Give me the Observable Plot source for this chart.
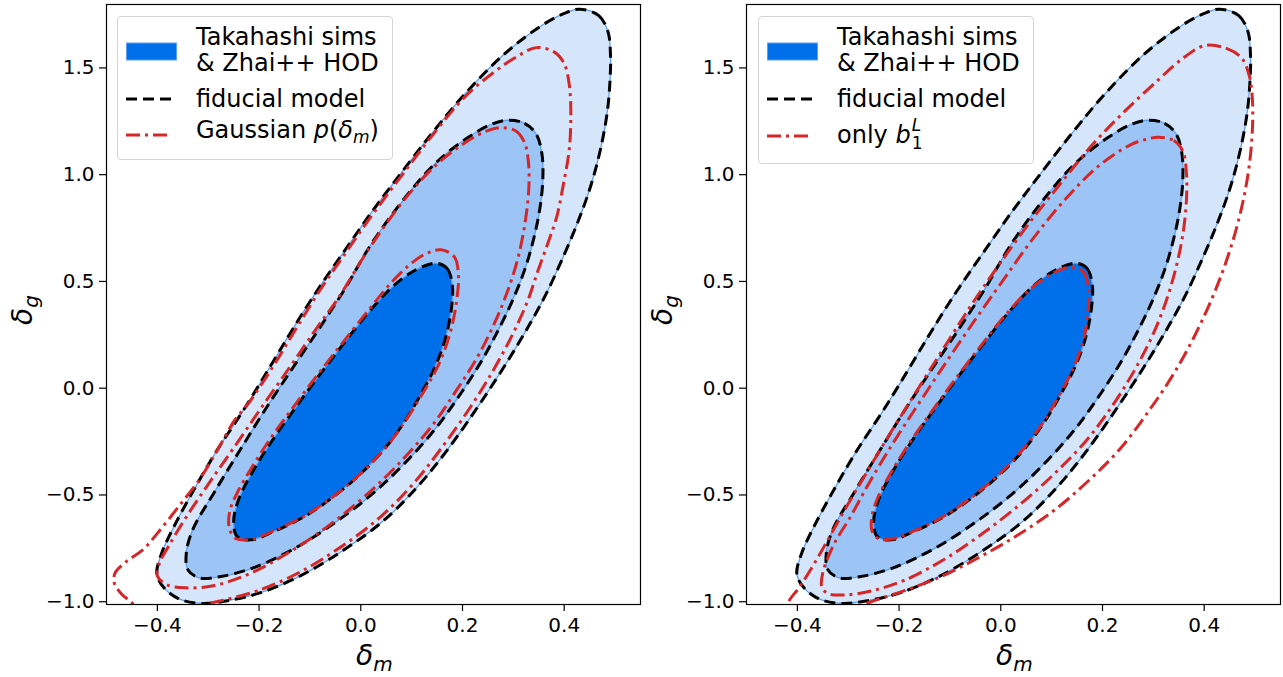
<!DOCTYPE html>
<html><head><meta charset="utf-8">
<script src="https://cdn.jsdelivr.net/npm/d3@7"></script>
<script src="https://cdn.jsdelivr.net/npm/@observablehq/plot@0.6"></script>
<style>
body{margin:0;background:#fff;}
#fig{position:relative;width:1283px;height:677px;font-family:"DejaVu Sans",sans-serif;overflow:hidden;background:#fff}
.panel{position:absolute;top:0}
.legend{position:absolute;border:1px solid #d4d4d4;border-radius:4px;background:rgba(255,255,255,0.85);box-sizing:border-box}
.lt{position:absolute;font-size:24px;line-height:28px;white-space:nowrap;color:#000}
.ax{position:absolute;font-size:28px;white-space:nowrap;color:#000;line-height:32px}
.sw{position:absolute;overflow:visible}
</style></head><body><div id="fig"></div>
<script>
// ---------------- data ----------------
const xTicks = [-0.4, -0.2, 0.0, 0.2, 0.4];
const yTicks = [-1.0, -0.5, 0.0, 0.5, 1.0, 1.5];
const xDomain = [-0.5, 0.55];
const yDomain = [-1.013, 1.797];

// Takahashi sims & Zhai++ HOD: filled contour boundaries [δm, δg]
const simsOuter = [
  [0.430,1.775],[0.468,1.745],[0.486,1.670],[0.491,1.560],[0.490,1.440],[0.485,1.300],[0.472,1.126],
  [0.453,0.954],[0.430,0.798],[0.400,0.626],[0.362,0.430],[0.320,0.250],[0.275,0.075],[0.225,-0.105],
  [0.170,-0.290],[0.112,-0.460],[0.045,-0.620],[-0.035,-0.760],[-0.120,-0.880],[-0.200,-0.960],
  [-0.262,-0.995],[-0.312,-1.008],[-0.356,-0.988],[-0.387,-0.935],[-0.401,-0.870],[-0.392,-0.776],
  [-0.368,-0.651],[-0.329,-0.479],[-0.283,-0.292],[-0.231,-0.104],[-0.179,0.098],[-0.133,0.280],
  [-0.085,0.460],[-0.033,0.640],[0.020,0.820],[0.072,0.985],[0.138,1.188],[0.204,1.376],[0.280,1.560],
  [0.352,1.693],[0.400,1.755]
];
const simsMiddle = [
  [0.290,1.255],[0.322,1.240],[0.345,1.190],[0.356,1.100],[0.358,0.980],[0.352,0.840],[0.340,0.700],
  [0.323,0.560],[0.300,0.420],[0.272,0.280],[0.238,0.130],[0.198,-0.020],[0.150,-0.180],[0.095,-0.330],
  [0.030,-0.480],[-0.045,-0.620],[-0.130,-0.750],[-0.210,-0.840],[-0.275,-0.882],[-0.318,-0.888],
  [-0.340,-0.850],[-0.343,-0.770],[-0.330,-0.660],[-0.290,-0.495],[-0.238,-0.292],[-0.185,-0.089],
  [-0.133,0.098],[-0.080,0.286],[-0.030,0.470],[0.020,0.673],[0.092,0.907],[0.151,1.063],[0.210,1.173],
  [0.256,1.235]
];
const simsInner = [
  [0.148,0.585],[0.170,0.560],[0.180,0.480],[0.178,0.370],[0.166,0.230],[0.146,0.100],[0.120,-0.020],
  [0.088,-0.150],[0.048,-0.280],[0.000,-0.400],[-0.052,-0.505],[-0.110,-0.600],[-0.170,-0.670],
  [-0.215,-0.710],[-0.243,-0.695],[-0.250,-0.625],[-0.240,-0.520],[-0.210,-0.380],[-0.170,-0.230],
  [-0.128,-0.090],[-0.085,0.050],[-0.040,0.190],[0.010,0.340],[0.060,0.470],[0.105,0.550]
];
// fiducial model (black dashed) — follows the simulation contours
const fidOuter = simsOuter, fidMiddle = simsMiddle, fidInner = simsInner;

// Gaussian p(δm) (left panel, red dash-dot)
const gaussInner = [
  [0.158,0.648],[0.184,0.615],[0.192,0.530],[0.189,0.420],[0.177,0.270],[0.153,0.110],[0.124,-0.015],
  [0.090,-0.145],[0.050,-0.275],[0.002,-0.395],[-0.050,-0.500],[-0.108,-0.595],[-0.168,-0.665],
  [-0.213,-0.706],[-0.245,-0.705],[-0.258,-0.660],[-0.258,-0.580],[-0.245,-0.500],[-0.214,-0.370],
  [-0.173,-0.220],[-0.130,-0.080],[-0.086,0.060],[-0.040,0.200],[0.010,0.350],[0.062,0.500],
  [0.105,0.595],[0.133,0.635]
];
const gaussMiddle = [
  [0.276,1.220],[0.305,1.205],[0.322,1.150],[0.330,1.050],[0.330,0.920],[0.322,0.760],[0.308,0.600],
  [0.288,0.450],[0.262,0.300],[0.228,0.140],[0.188,-0.010],[0.142,-0.170],[0.088,-0.320],[0.025,-0.470],
  [-0.050,-0.620],[-0.135,-0.760],[-0.220,-0.870],[-0.290,-0.925],[-0.345,-0.935],[-0.382,-0.920],
  [-0.400,-0.880],[-0.396,-0.820],[-0.378,-0.740],[-0.345,-0.610],[-0.300,-0.450],[-0.250,-0.280],
  [-0.198,-0.100],[-0.145,0.080],[-0.090,0.270],[-0.045,0.420],[0.018,0.660],[0.088,0.890],
  [0.148,1.045],[0.205,1.150],[0.248,1.205]
];
const gaussOuter = [
  [0.345,1.595],[0.380,1.575],[0.400,1.520],[0.410,1.420],[0.413,1.290],[0.410,1.120],[0.398,0.950],
  [0.385,0.800],[0.368,0.680],[0.348,0.548],[0.328,0.408],[0.298,0.250],[0.262,0.090],[0.218,-0.080],
  [0.165,-0.260],[0.106,-0.440],[0.040,-0.600],[-0.040,-0.745],[-0.125,-0.868],[-0.205,-0.950],
  [-0.265,-0.990],[-0.305,-1.013],[-0.340,-1.050],[-0.400,-1.080],[-0.440,-1.050],[-0.450,-1.005],
  [-0.470,-0.965],[-0.485,-0.910],[-0.483,-0.865],[-0.460,-0.810],[-0.430,-0.760],[-0.400,-0.680],
  [-0.360,-0.560],[-0.318,-0.430],[-0.282,-0.290],[-0.248,-0.150],[-0.222,-0.075],[-0.173,0.100],
  [-0.127,0.280],[-0.080,0.460],[-0.028,0.640],[0.025,0.820],[0.077,0.985],[0.142,1.188],
  [0.207,1.370],[0.262,1.480],[0.305,1.550]
];

// only b1^L (right panel, red dash-dot)
const linInner = [
  [0.142,0.565],[0.162,0.545],[0.172,0.480],[0.172,0.370],[0.163,0.230],[0.144,0.100],[0.118,-0.020],
  [0.086,-0.150],[0.046,-0.280],[-0.002,-0.400],[-0.054,-0.505],[-0.112,-0.600],[-0.170,-0.668],
  [-0.212,-0.705],[-0.240,-0.705],[-0.253,-0.670],[-0.254,-0.610],[-0.243,-0.520],[-0.212,-0.380],
  [-0.172,-0.230],[-0.130,-0.090],[-0.087,0.050],[-0.042,0.190],[0.008,0.340],[0.058,0.465],
  [0.100,0.535],[0.123,0.560]
];
const linMiddle = [
  [0.310,1.175],[0.340,1.160],[0.358,1.110],[0.365,1.010],[0.365,0.880],[0.358,0.720],[0.344,0.560],
  [0.324,0.400],[0.297,0.240],[0.262,0.080],[0.220,-0.080],[0.170,-0.240],[0.110,-0.390],[0.045,-0.530],
  [-0.030,-0.670],[-0.110,-0.800],[-0.190,-0.900],[-0.255,-0.950],[-0.306,-0.968],[-0.340,-0.962],
  [-0.352,-0.930],[-0.350,-0.865],[-0.330,-0.740],[-0.295,-0.600],[-0.258,-0.440],[-0.210,-0.250],
  [-0.158,-0.060],[-0.105,0.130],[-0.052,0.315],[0.003,0.500],[0.060,0.690],[0.125,0.880],
  [0.192,1.040],[0.255,1.140],[0.285,1.165]
];
const linOuter = [
  [0.402,1.605],[0.445,1.590],[0.474,1.545],[0.489,1.460],[0.495,1.340],[0.494,1.180],[0.486,1.000],
  [0.470,0.810],[0.447,0.620],[0.417,0.430],[0.380,0.240],[0.338,0.060],[0.290,-0.110],[0.236,-0.280],
  [0.174,-0.430],[0.106,-0.570],[0.032,-0.690],[-0.045,-0.795],[-0.120,-0.885],[-0.192,-0.950],
  [-0.255,-1.000],[-0.300,-1.040],[-0.360,-1.070],[-0.420,-1.050],[-0.417,-1.000],[-0.397,-0.935],
  [-0.374,-0.850],[-0.347,-0.740],[-0.307,-0.570],[-0.260,-0.380],[-0.212,-0.190],[-0.162,0.000],
  [-0.109,0.200],[-0.055,0.400],[0.000,0.590],[0.058,0.780],[0.118,0.960],[0.180,1.140],[0.245,1.300],
  [0.308,1.440],[0.358,1.545]
];

const legendSims = ["Takahashi sims", "& Zhai++ HOD"];
const legendFid = "fiducial model";

// ---------------- styles ----------------
const C_OUT = "#d5e6fa", C_MID = "#9cc5f5", C_IN = "#0070ea", C_EDGE = "#5d9ff0", C_RED = "#d62728";
const DASH = "11,6", DASHDOT = "14,5,3,5";

const fmt = d => (d < 0 ? "\u2212" : "") + Math.abs(d).toFixed(1);

function panel(reds, width, marginRight) {
  const L = (arr, opts) => Plot.line(arr, {x: d => d[0], y: d => d[1], curve: "catmull-rom-closed", ...opts});
  return Plot.plot({
    width, height: 677,
    marginLeft: 106, marginRight, marginTop: 4, marginBottom: 73,
    x: {domain: xDomain},
    y: {domain: yDomain},
    style: {fontFamily: "DejaVu Sans", fontSize: "20px", color: "#000", background: "transparent", overflow: "visible"},
    marks: [
      L(simsOuter, {fill: C_OUT, stroke: C_EDGE, strokeWidth: 1.3}),
      L(simsMiddle, {fill: C_MID, stroke: C_EDGE, strokeWidth: 1.3}),
      L(simsInner, {fill: C_IN, stroke: C_EDGE, strokeWidth: 1.3}),
      L(fidOuter, {stroke: "#000", strokeWidth: 3, strokeDasharray: DASH, strokeLinecap: "butt"}),
      L(fidMiddle, {stroke: "#000", strokeWidth: 3, strokeDasharray: DASH, strokeLinecap: "butt"}),
      L(fidInner, {stroke: "#000", strokeWidth: 3, strokeDasharray: DASH, strokeLinecap: "butt"}),
      ...reds.map(r => L(r, {stroke: C_RED, strokeWidth: 3, strokeDasharray: DASHDOT, strokeLinecap: "butt", clip: true})),
      Plot.frame({stroke: "#000", strokeWidth: 1.2}),
      Plot.axisX({ticks: xTicks, tickFormat: fmt, tickSize: 7, tickPadding: 6, label: null, strokeWidth: 1.2}),
      Plot.axisY({ticks: yTicks, tickFormat: fmt, tickSize: 7, tickPadding: 5, label: null, strokeWidth: 1.2})
    ]
  });
}

const fig = document.getElementById("fig");
const p1 = panel([gaussInner, gaussMiddle, gaussOuter], 642, 2);
p1.classList.add("panel"); p1.style.left = "0px";
const p2 = panel([linInner, linMiddle, linOuter], 643, 3);
p2.classList.add("panel"); p2.style.left = "640px";
fig.appendChild(p1); fig.appendChild(p2);

function add(html, cls, style) {
  const d = document.createElement("div");
  d.className = cls; d.innerHTML = html; Object.assign(d.style, style); fig.appendChild(d); return d;
}
function swatch(left, top, kind) {
  const ns = "http://www.w3.org/2000/svg";
  const s = document.createElementNS(ns, "svg");
  s.setAttribute("class", "sw"); s.setAttribute("width", 52); s.setAttribute("height", 20);
  s.style.left = left + "px"; s.style.top = top + "px";
  if (kind === "patch") {
    const r = document.createElementNS(ns, "rect");
    r.setAttribute("x", 0.5); r.setAttribute("y", 1); r.setAttribute("width", 50); r.setAttribute("height", 17);
    r.setAttribute("fill", C_IN); r.setAttribute("stroke", C_EDGE); r.setAttribute("stroke-width", 1);
    s.appendChild(r);
  } else {
    const l = document.createElementNS(ns, "line");
    l.setAttribute("x1", 0); l.setAttribute("x2", 46); l.setAttribute("y1", 10); l.setAttribute("y2", 10);
    l.setAttribute("stroke", kind === "dash" ? "#000" : C_RED);
    l.setAttribute("stroke-width", 3);
    l.setAttribute("stroke-dasharray", kind === "dash" ? DASH : DASHDOT);
    s.appendChild(l);
  }
  fig.appendChild(s);
}

function legend(x0, boxW, boxH, redLabel, redTop, textTop) {
  add("", "legend", {left: x0 + "px", top: "16px", width: boxW + "px", height: boxH + "px"});
  swatch(x0 + 9, 42, "patch");
  swatch(x0 + 9, 89, "dash");
  swatch(x0 + 9, redTop, "dashdot");
  add(legendSims[0], "lt", {left: (x0 + 79) + "px", top: "23px"});
  add(legendSims[1], "lt", {left: (x0 + 79) + "px", top: "49px"});
  add(legendFid, "lt", {left: (x0 + 79) + "px", top: "85px"});
  add(redLabel, "lt", {left: (x0 + 79) + "px", top: textTop + "px"});
}
legend(117, 276, 144, 'Gaussian <i>p</i>(<i>δ</i><sub style="font-size:17px;font-style:italic;vertical-align:-5px">m</sub>)', 125, 116);
legend(758, 276, 148,
  'only <i>b</i><span style="display:inline-block;position:relative;width:13px;height:10px;font-size:17px;vertical-align:baseline"><i style="position:absolute;left:1px;top:-22px">L</i><span style="position:absolute;left:1px;top:-4px">1</span></span>', 126, 121);

// axis labels
const xl = '<i>δ</i><sub style="font-size:20px;font-style:italic;vertical-align:-6px">m</sub>';
const yl = '<i>δ</i><sub style="font-size:20px;font-style:italic;vertical-align:-6px">g</sub>';
add(xl, "ax", {left: "356px", top: "640px"});
add(xl, "ax", {left: "996px", top: "640px"});
add(yl, "ax", {left: "12px", top: "290px", transform: "rotate(-90deg)", transformOrigin: "50% 50%"});
add(yl, "ax", {left: "652px", top: "290px", transform: "rotate(-90deg)", transformOrigin: "50% 50%"});
</script></body></html>
